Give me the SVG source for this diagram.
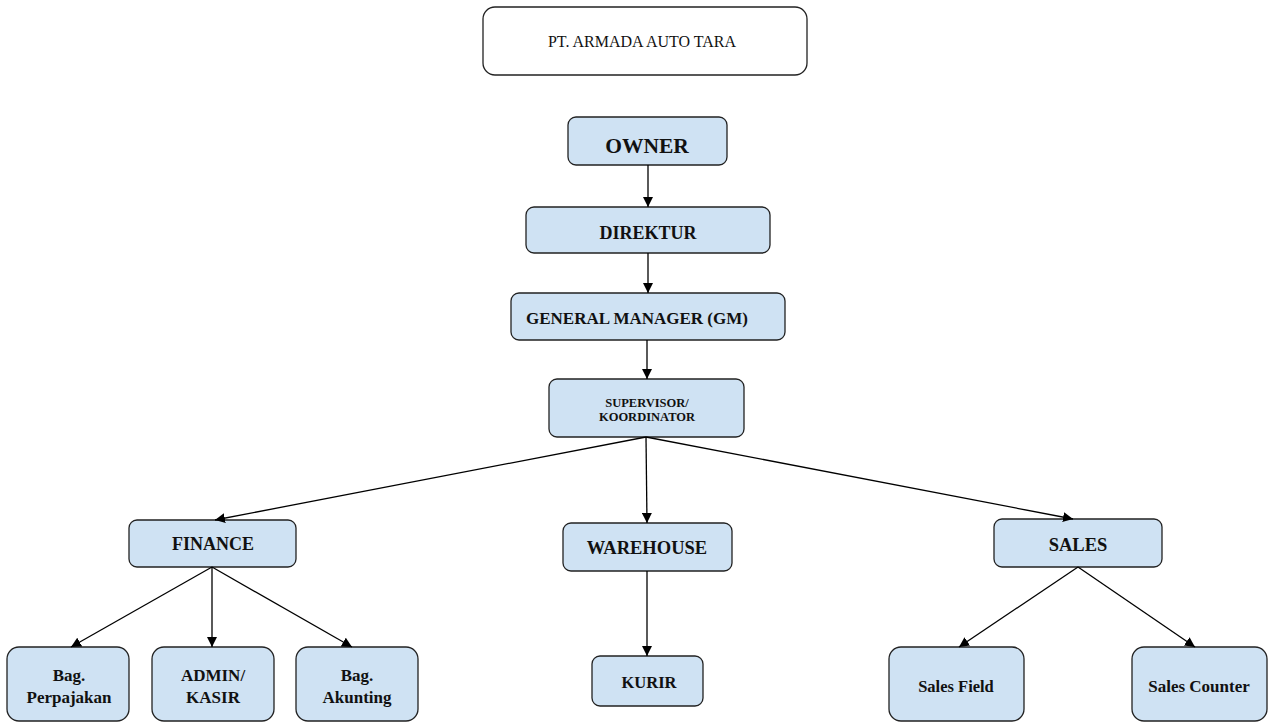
<svg xmlns="http://www.w3.org/2000/svg" width="1268" height="723" viewBox="0 0 1268 723">
<defs>
<marker id="ah" viewBox="0 0 10 10" refX="10" refY="5" markerWidth="10" markerHeight="10" markerUnits="userSpaceOnUse" orient="auto">
<path d="M0,0 L10,5 L0,10 z" fill="#000"/>
</marker>
<style>
.n{fill:#cfe2f3;stroke:#222;stroke-width:1.3}
.t{fill:#fff;stroke:#222;stroke-width:1.3}
text{font-family:"Liberation Serif","Times New Roman",serif;font-weight:bold;fill:#111;text-anchor:middle}
.c{stroke:#000;stroke-width:1.3;fill:none;marker-end:url(#ah)}
</style>
</defs>
<rect width="1268" height="723" fill="#fff"/>
<g id="title"><rect class="t" x="483" y="7" width="324" height="68" rx="12"/><text x="642" y="47" font-size="16" style="font-weight:normal">PT. ARMADA AUTO TARA</text></g>
<g id="owner"><rect class="n" x="568" y="117" width="159" height="48" rx="8"/><text x="647" y="153" font-size="21.5">OWNER</text></g>
<g id="direktur"><rect class="n" x="526" y="207" width="244" height="46" rx="8"/><text x="648" y="239" font-size="18">DIREKTUR</text></g>
<g id="gm"><rect class="n" x="511" y="293" width="274" height="47" rx="8"/><text x="637" y="324" font-size="17">GENERAL MANAGER (GM)</text></g>
<g id="supervisor"><rect class="n" x="549" y="379" width="195" height="58" rx="8"/><text x="647" y="407" font-size="12.5">SUPERVISOR/</text><text x="647" y="421" font-size="12.5">KOORDINATOR</text></g>
<g id="finance"><rect class="n" x="129" y="520" width="167" height="47" rx="8"/><text x="213" y="550" font-size="18">FINANCE</text></g>
<g id="warehouse"><rect class="n" x="563" y="523" width="169" height="48" rx="8"/><text x="647" y="554" font-size="18.5">WAREHOUSE</text></g>
<g id="sales"><rect class="n" x="994" y="519" width="168" height="48" rx="8"/><text x="1078" y="551" font-size="18.5">SALES</text></g>
<g id="perpajakan"><rect class="n" x="7" y="647" width="122" height="74" rx="12"/><text x="69" y="681" font-size="17">Bag.</text><text x="69" y="703" font-size="17">Perpajakan</text></g>
<g id="admin"><rect class="n" x="152" y="647" width="122" height="74" rx="12"/><text x="213" y="681" font-size="17">ADMIN/</text><text x="213" y="703" font-size="17">KASIR</text></g>
<g id="akunting"><rect class="n" x="296" y="647" width="122" height="74" rx="12"/><text x="357" y="681" font-size="17">Bag.</text><text x="357" y="703" font-size="17">Akunting</text></g>
<g id="kurir"><rect class="n" x="592" y="656" width="111" height="50" rx="8"/><text x="649" y="688" font-size="16.5">KURIR</text></g>
<g id="salesfield"><rect class="n" x="889" y="647" width="135" height="74" rx="12"/><text x="956" y="692" font-size="16.5">Sales Field</text></g>
<g id="salescounter"><rect class="n" x="1132" y="647" width="135" height="74" rx="12"/><text x="1199" y="692" font-size="17">Sales Counter</text></g>
<g id="connectors">
<line class="c" x1="648" y1="165" x2="648" y2="207"/>
<line class="c" x1="648" y1="253" x2="648" y2="293"/>
<line class="c" x1="647" y1="340" x2="647" y2="379"/>
<line class="c" x1="646" y1="437" x2="215" y2="520"/>
<line class="c" x1="646" y1="437" x2="647" y2="523"/>
<line class="c" x1="646" y1="437" x2="1073" y2="519"/>
<line class="c" x1="212" y1="567" x2="71" y2="647"/>
<line class="c" x1="212" y1="567" x2="212" y2="647"/>
<line class="c" x1="212" y1="567" x2="352" y2="647"/>
<line class="c" x1="647" y1="571" x2="647" y2="656"/>
<line class="c" x1="1078" y1="567" x2="959" y2="647"/>
<line class="c" x1="1078" y1="567" x2="1195" y2="647"/>
</g>
</svg>
